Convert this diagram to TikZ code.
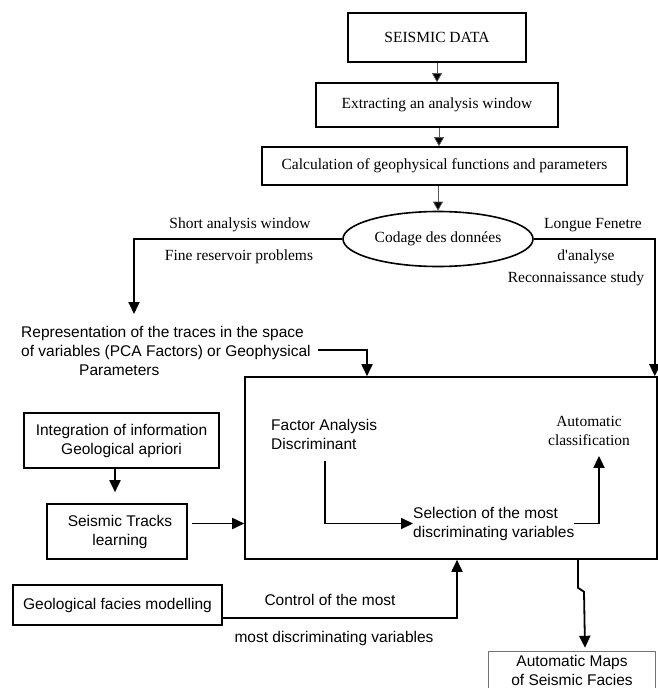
\documentclass[tikz,border=0pt]{standalone}
\usepackage{fontspec}
\setmainfont{Liberation Serif}
\newfontfamily\arialf{Liberation Sans}
\usetikzlibrary{arrows.meta,shapes.geometric}
\begin{document}
\begin{tikzpicture}[x=1pt,y=-1pt,
 tms/.style={font=\fontsize{15.5}{19}\selectfont},
 ari/.style={font=\arialf\fontsize{15.5}{19}\selectfont},
 box/.style={draw, line width=1.6pt, inner sep=0pt, align=center},
 lbl/.style={inner sep=0pt, align=center},
 thinarrow/.style={draw=black!65, line width=0.7pt, -{Triangle[length=9pt,width=10pt,fill=black]}},
 thickarrow/.style={line width=1.8pt, -{Triangle[length=12pt,width=11pt]}},
]
\useasboundingbox (0,0) rectangle (658,688);

% top chain
\node[box,tms,line width=1.9pt,minimum width=178pt,minimum height=49pt] (seis) at (437,37.5) {SEISMIC DATA};
\node[box,tms,minimum width=242pt,minimum height=44pt] (extr) at (437,105) {Extracting an analysis window};
\node[box,tms,minimum width=365pt,minimum height=38pt] (calc) at (444.5,166) {Calculation of geophysical functions and parameters};
\node[draw,ellipse,line width=1.6pt,tms,minimum width=190pt,minimum height=55pt,inner sep=0pt] (cod) at (438,239) {Codage des données};

\draw[thinarrow] (seis.south) -- (extr.north);
\draw[thinarrow] ([xshift=2pt]extr.south) -- ([xshift=2pt]extr.south |- calc.north);
\draw[thinarrow] (cod.north |- calc.south) -- (cod.north);

% branch labels
\node[lbl,tms] (sw) at (240,225) {Short analysis window};
\node[lbl,tms] (fr) at (239,257) {Fine reservoir problems};
\node[lbl,tms] (lf) at (593,225) {Longue Fenetre};
\node[lbl,tms] (da) at (586,257) {d\textquotesingle analyse};
\node[lbl,tms] (rs) at (576,279) {Reconnaissance study};

% big box
\node[box,minimum width=412pt,minimum height=182pt] (big) at (451,468) {};

% representation
\node[lbl,ari,align=left,anchor=west] (repr) at (21,351) {Representation of the traces in the space\\of variables (PCA Factors) or Geophysical\\\hspace*{58pt}Parameters};
\coordinate (sa) at (134,314);
\draw[thickarrow] (cod.west) -| (sa);
\draw[thickarrow] (cod.east) -| ([xshift=-3pt]big.north east);
\coordinate (r2) at (318,350);
\draw[thickarrow] (r2) -| ([xshift=-84pt]big.north);

% inside big box
\node[lbl,ari,align=left,anchor=west] (fa) at (271,434.5) {Factor Analysis\\Discriminant};
\node[lbl,ari,align=left,anchor=west] (sel) at (413,523.5) {Selection of the most\\discriminating variables};
\node[lbl,tms] (ac) at (589,431) {Automatic\\classification};
\coordinate (f1) at (325,461);
\draw[thickarrow] (f1) |- (sel.west);
\draw[thickarrow] (sel.east) -| ([xshift=10pt,yshift=-10pt]ac.south);

% left column
\node[box,ari,minimum width=195pt,minimum height=55pt] (integ) at (121.5,440.5) {Integration of information\\Geological apriori};
\node[box,ari,minimum width=140pt,minimum height=55pt] (track) at (117,531.5) {\hspace*{6pt}Seismic Tracks\\\hspace*{6pt}learning};
\draw[thickarrow] ([xshift=-6.5pt]integ.south) -- ([xshift=-2pt,yshift=11pt]track.north);
\coordinate (t1) at ([xshift=4pt,yshift=8pt]track.east);
\draw[thickarrow] (t1) -- (t1 -| big.west);

% geological facies
\node[box,ari,minimum width=209pt,minimum height=40pt] (geo) at (117.5,605) {Geological facies modelling};
\coordinate (g1) at ([yshift=-13pt]geo.east);
\draw[thickarrow] (g1) -| ([xshift=6pt]big.south);
\node[lbl,ari] (ctl) at (330,600) {Control of the most};
\node[lbl,ari] (mdv) at (334,638) {most discriminating variables};

% automatic maps
\node[lbl,ari,minimum width=166pt,minimum height=36pt] (maps) at (572,670) {Automatic Maps\\of Seismic Facies};
\draw[black!55,line width=0.8pt] (maps.south west) |- (maps.north east) -- (maps.south east);
\coordinate (z0) at ([xshift=127pt]big.south);
\draw[thickarrow] (z0) -- ++(0,28) -- ++(6,4) -- ([xshift=13pt,yshift=4pt]maps.north);
\end{tikzpicture}
\end{document}
